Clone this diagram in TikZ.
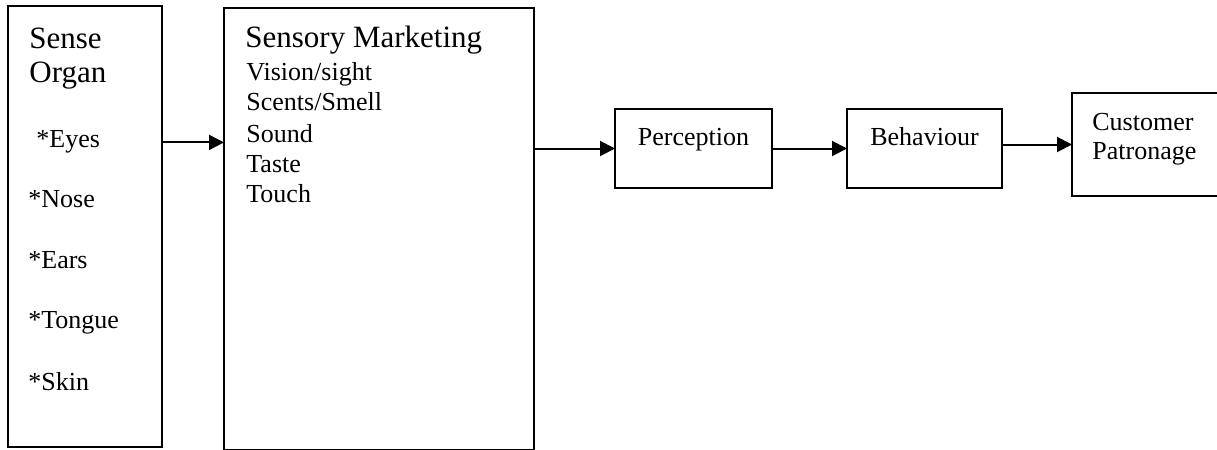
\documentclass[tikz,border=0pt]{standalone}
\usepackage{fontspec}
\setmainfont{Liberation Serif}
\usetikzlibrary{arrows.meta}

\begin{document}
\begin{tikzpicture}
      [x=0.5pt, y=-0.5pt,
      bigbox/.style={rectangle, draw, line width=1pt, inner sep=0pt, outer sep=0pt, anchor=north west},
      stage/.style={rectangle, draw, line width=1pt, inner sep=0pt, outer sep=0pt,
        text height=18pt, text depth=21.5pt, font=\fontsize{13}{15.6}\selectfont},
      head/.style={anchor=base west, inner sep=0pt, font=\fontsize{15.5}{18}\selectfont},
      item/.style={anchor=base west, inner sep=0pt, font=\fontsize{13}{15.6}\selectfont},
      link/.style={-{Triangle[length=7.5pt, width=7.5pt]}, line width=1pt}]
      \useasboundingbox (0,0) rectangle (1217,450);
      % Place nodes
      \node [bigbox, minimum width=77pt, minimum height=220.5pt] (organ) at (8,6) {};
      \node [head] (organtitle1) at (29,48) {Sense};
      \node [head] (organtitle2) at (29,82) {Organ};
      \node [item] (eyes) at (36,147) {*Eyes};
      \node [item] (nose) at (28,207) {*Nose};
      \node [item] (ears) at (28,268) {*Ears};
      \node [item] (tongue) at (28,328) {*Tongue};
      \node [item] (skin) at (28,390) {*Skin};
      \node [bigbox, minimum width=155pt, minimum height=220.75pt] (marketing) at (224,8) {};
      \node [head] (markettitle) at (245,47) {Sensory Marketing};
      \node [item] (vision) at (246,80) {Vision/sight};
      \node [item] (smell) at (246,110) {Scents/Smell};
      \node [item] (sound) at (246,142) {Sound};
      \node [item] (taste) at (246,172) {Taste};
      \node [item] (touch) at (246,202) {Touch};
      \node [stage, minimum width=78.5pt, anchor=north west] (perception) at (615,109) {Perception};
      \node [stage, minimum width=77.5pt, right of=perception, node distance=115.5pt] (behaviour) {Behaviour};
      \node [bigbox, minimum width=75pt, minimum height=51.5pt] (customer) at (1072,93) {};
      \node [item] (custtext1) at (1092,130) {Customer};
      \node [item] (custtext2) at (1092,159) {Patronage};
      % Draw edges
      \draw [link] (organ.east |- eyes.mid) -- (marketing.west |- eyes.mid);
      \draw [link] (marketing.east |- perception.west) -- (perception.west);
      \draw [link] (perception) -- (behaviour);
      \draw [link] (behaviour.east |- customer.west) -- (customer.west);
\end{tikzpicture}
\end{document}
